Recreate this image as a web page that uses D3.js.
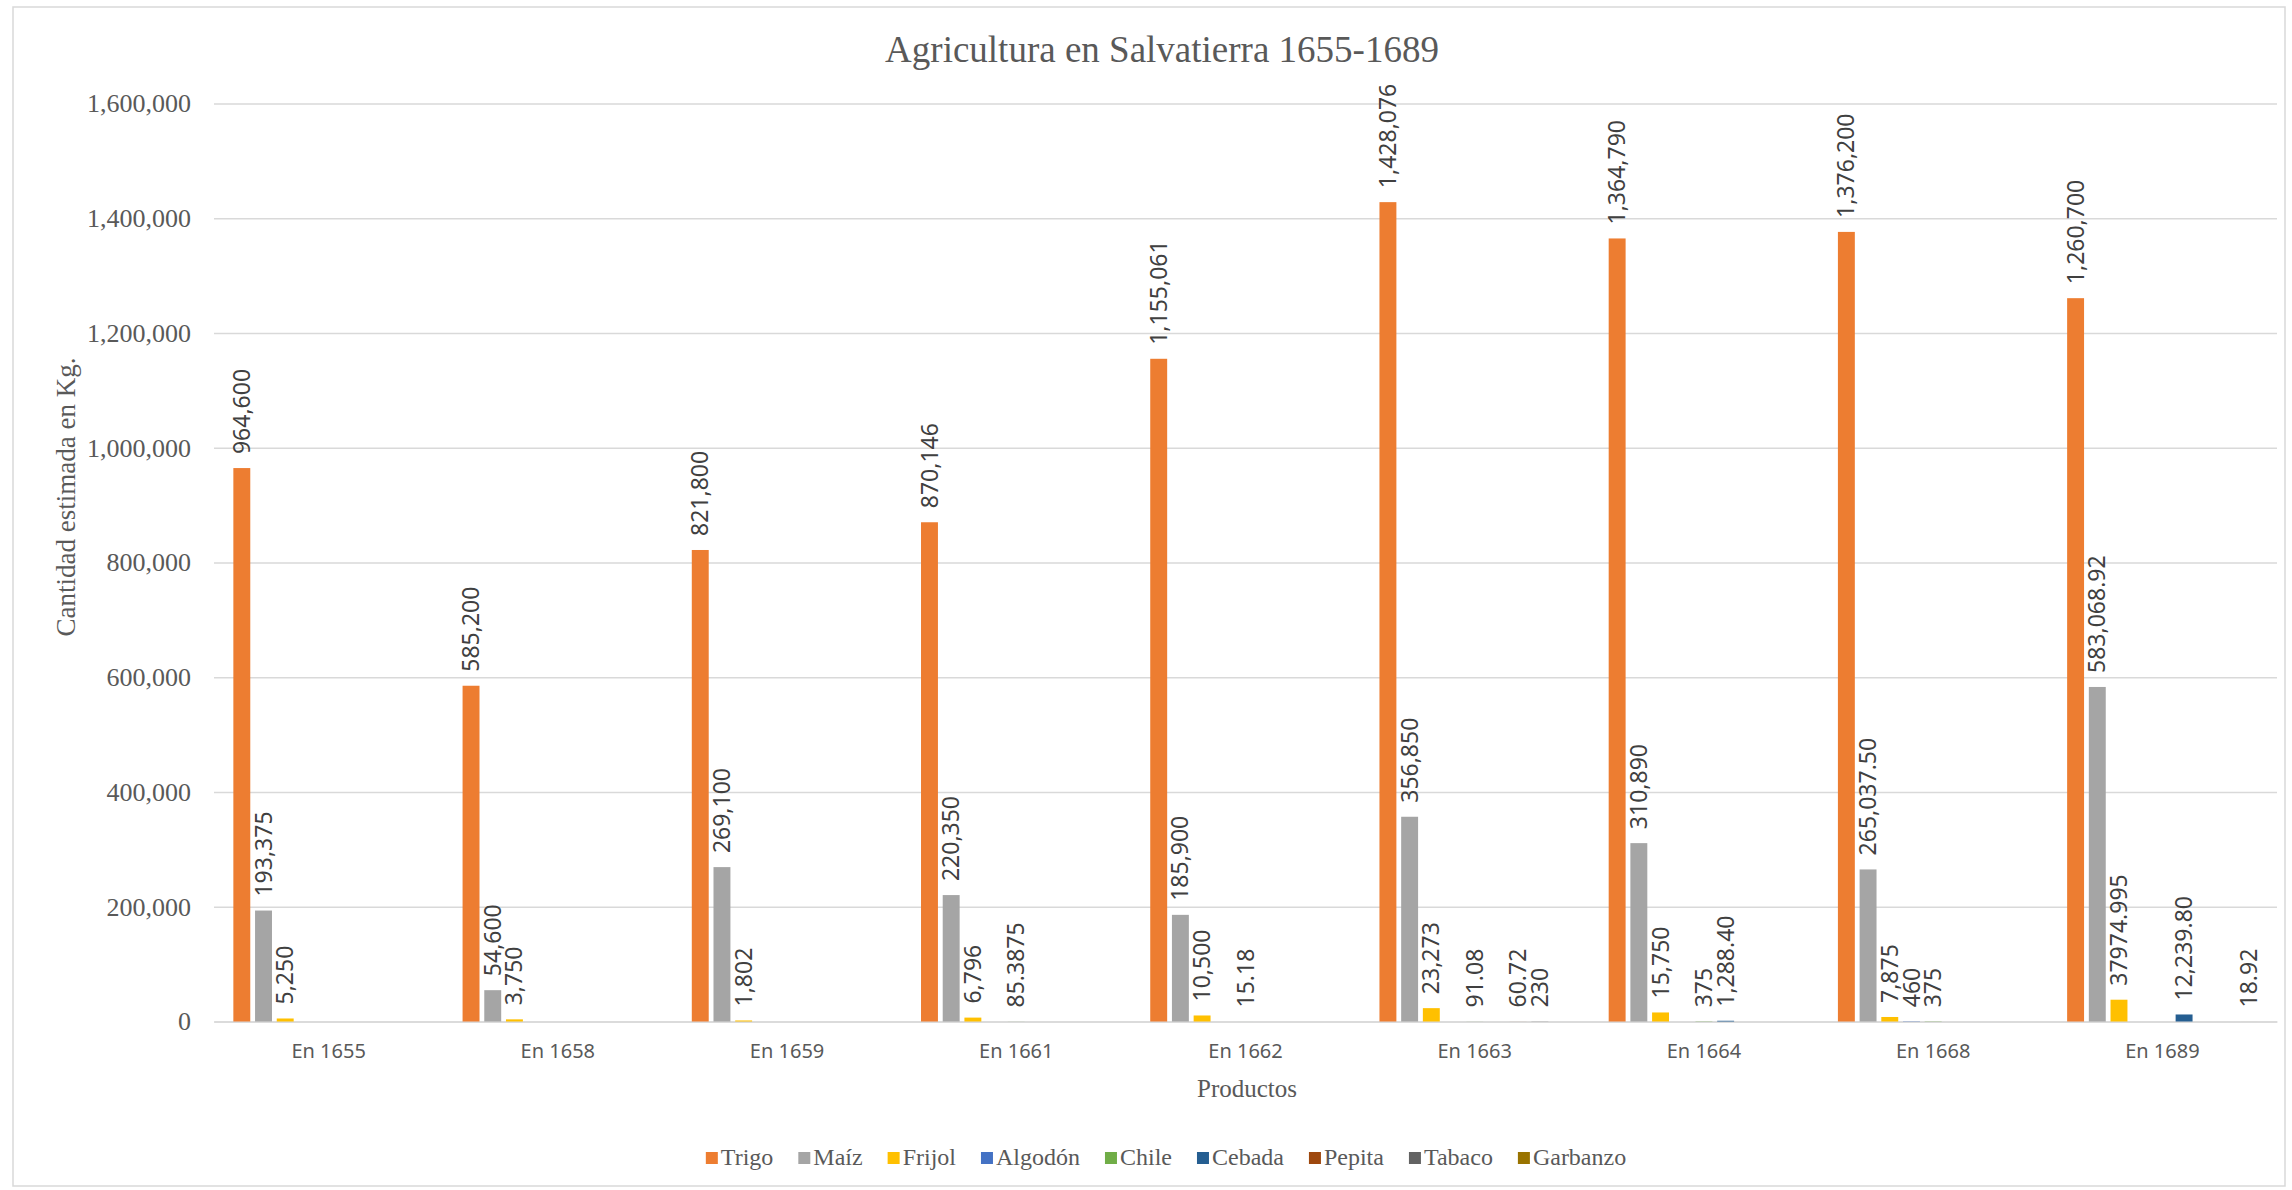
<!DOCTYPE html>
<html>
<head>
<meta charset="utf-8">
<script src="https://cdn.jsdelivr.net/npm/d3@7"></script>
<style>
  body { margin: 0; background: #fff; }
  svg { display: block; }
</style>
</head>
<body>
<svg id="chart"></svg>
<script>
(function (d3) {
  'use strict'
  // data
  const years = ['En 1655', 'En 1658', 'En 1659', 'En 1661', 'En 1662', 'En 1663', 'En 1664', 'En 1668', 'En 1689']
  const seriesNames = ['Trigo', 'Maíz', 'Frijol', 'Algodón', 'Chile', 'Cebada', 'Pepita', 'Tabaco', 'Garbanzo']
  const seriesColors = ['#ED7D31', '#A5A5A5', '#FFC000', '#4472C4', '#70AD47', '#255E91', '#9E480E', '#636363', '#997300']

  const trigo = [964600, 585200, 821800, 870146, 1155061, 1428076, 1364790, 1376200, 1260700]
  const maiz = [193375, 54600, 269100, 220350, 185900, 356850, 310890, 265037.5, 583068.92]
  const frijol = [5250, 3750, 1802, 6796, 10500, 23273, 15750, 7875, 37974.995]
  const algodon = [null, null, null, null, null, null, null, 460, null]
  const chile = [null, null, null, 85.3875, 15.18, 91.08, 375, 375, null]
  const cebada = [null, null, null, null, null, null, 1288.40, null, 12239.80]
  const pepita = [null, null, null, null, null, 60.72, null, null, null]
  const tabaco = [null, null, null, null, null, 230, null, null, null]
  const garbanzo = [null, null, null, null, null, null, null, null, 18.92]

  const yTicks = [0, 200000, 400000, 600000, 800000, 1000000, 1200000, 1400000, 1600000]

  // labels written differently in the source
  const labelOverrides = [
    ['Maíz', 'En 1668', '265,037.50'],
    ['Frijol', 'En 1689', '37974.995'],
    ['Cebada', 'En 1664', '1,288.40'],
    ['Cebada', 'En 1689', '12,239.80']
  ]

  const seriesValues = [trigo, maiz, frijol, algodon, chile, cebada, pepita, tabaco, garbanzo]

  // layout
  const W = 2292
  const H = 1190
  const plot = { left: 214, right: 2277, top: 103.5, bottom: 1021.5 }

  const svg = d3.select('#chart').attr('width', W).attr('height', H)

  svg.append('rect')
    .attr('x', 13).attr('y', 7)
    .attr('width', 2272).attr('height', 1179)
    .attr('fill', '#fff').attr('stroke', '#d9d9d9').attr('stroke-width', 1.5)

  const x0 = d3.scaleBand().domain(years).range([plot.left, plot.right])
  const gw = x0.bandwidth()
  const x1 = d3.scaleBand().domain(seriesNames)
    .range([gw * 0.074, gw * 0.926])
    .paddingInner(0.22).paddingOuter(0.11)
  const y = d3.scaleLinear().domain([0, 1600000]).range([plot.bottom, plot.top])

  const fmt = d3.format(',')

  // gridlines + y axis
  const yAxis = svg.append('g')
    .attr('transform', `translate(${plot.left},0)`)
    .call(d3.axisLeft(y).tickValues(yTicks).tickFormat(fmt).tickSize(-(plot.right - plot.left)).tickPadding(23))
  yAxis.select('.domain').remove()
  yAxis.selectAll('.tick line').attr('stroke', '#d9d9d9').attr('stroke-width', 1.5)
  yAxis.selectAll('.tick text')
    .attr('fill', '#595959')
    .style('font-family', '"Liberation Serif", "Times New Roman", serif')
    .style('font-size', '26px')

  // x axis
  const xAxis = svg.append('g')
    .attr('transform', `translate(0,${plot.bottom})`)
    .call(d3.axisBottom(x0).tickSize(0).tickPadding(22))
  xAxis.select('.domain').attr('stroke', '#d9d9d9').attr('stroke-width', 1.5)
  xAxis.selectAll('.tick text')
    .attr('fill', '#595959')
    .style('font-family', '"Noto Sans", "Open Sans", sans-serif')
    .style('font-size', '20px')

  // rows
  const rows = []
  seriesNames.forEach((s, si) => {
    years.forEach((yr, yi) => {
      const v = seriesValues[si][yi]
      if (v == null) return
      const ov = labelOverrides.find(o => o[0] === s && o[1] === yr)
      rows.push({ series: s, year: yr, value: v, color: seriesColors[si], label: ov ? ov[2] : fmt(v) })
    })
  })

  // bars
  svg.append('g').selectAll('rect')
    .data(rows).enter().append('rect')
    .attr('x', d => x0(d.year) + x1(d.series))
    .attr('width', x1.bandwidth())
    .attr('y', d => y(d.value))
    .attr('height', d => plot.bottom - y(d.value))
    .attr('fill', d => d.color)

  // data labels
  svg.append('g').selectAll('text')
    .data(rows).enter().append('text')
    .attr('transform', d => {
      const cx = x0(d.year) + x1(d.series) + x1.bandwidth() / 2
      const cy = y(d.value) - 14
      return `translate(${cx},${cy}) rotate(-90)`
    })
    .attr('dy', '0.35em')
    .attr('text-anchor', 'start')
    .attr('fill', '#404040')
    .style('font-family', '"Noto Sans", "Open Sans", sans-serif')
    .style('font-size', '23px')
    .text(d => d.label)

  // titles
  svg.append('text')
    .attr('x', 1162).attr('y', 62)
    .attr('text-anchor', 'middle')
    .attr('fill', '#595959')
    .style('font-family', '"Liberation Serif", "Times New Roman", serif')
    .style('font-size', '37px')
    .text('Agricultura en Salvatierra 1655-1689')

  svg.append('text')
    .attr('transform', 'translate(75,497) rotate(-90)')
    .attr('text-anchor', 'middle')
    .attr('fill', '#595959')
    .style('font-family', '"Liberation Serif", "Times New Roman", serif')
    .style('font-size', '27px')
    .text('Cantidad estimada en Kg.')

  svg.append('text')
    .attr('x', 1247).attr('y', 1097)
    .attr('text-anchor', 'middle')
    .attr('fill', '#595959')
    .style('font-family', '"Liberation Serif", "Times New Roman", serif')
    .style('font-size', '25px')
    .text('Productos')

  // legend
  const legend = svg.append('g')
  let lx = 0
  seriesNames.forEach((s, i) => {
    const item = legend.append('g').attr('transform', `translate(${lx},0)`)
    item.append('rect')
      .attr('x', 0).attr('y', -13).attr('width', 12).attr('height', 12)
      .attr('fill', seriesColors[i])
    const t = item.append('text')
      .attr('x', 15).attr('y', 0)
      .attr('fill', '#595959')
      .style('font-family', '"Liberation Serif", "Times New Roman", serif')
      .style('font-size', '24px')
      .text(s)
    lx += 15 + t.node().getComputedTextLength() + 25
  })
  const legendW = lx - 25
  legend.attr('transform', `translate(${1166 - legendW / 2},1165)`)
}(d3))
</script>
</body>
</html>
